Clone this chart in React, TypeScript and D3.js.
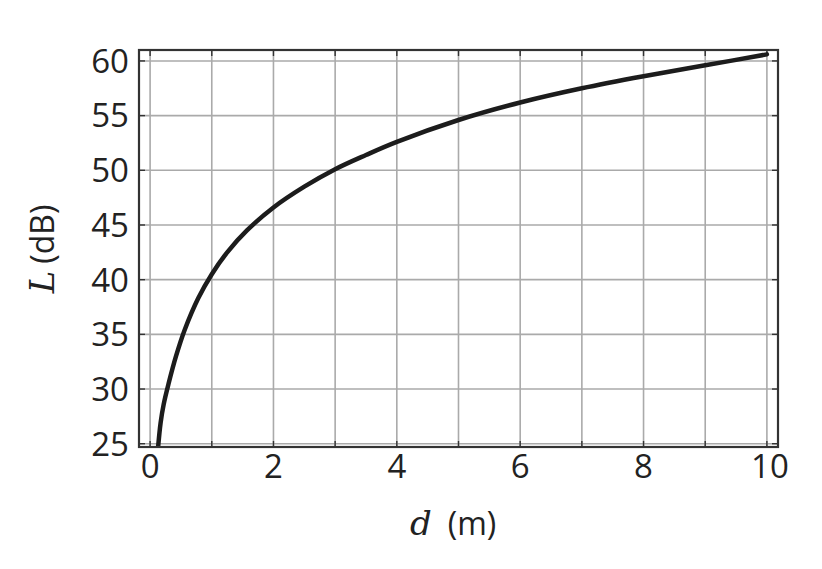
import React from "react"
import * as d3 from "d3"

// values
const distances = [0.13, 0.17, 0.22, 0.3, 0.42, 0.56, 0.78, 1, 1.25, 1.57, 2, 2.5, 3, 3.5, 4, 5, 6, 7, 8, 9, 10]
const levels = [24.7, 26.9, 28.6, 30.5, 33.0, 35.4, 38.3, 40.5, 42.5, 44.5, 46.6, 48.5, 50.1, 51.4, 52.6, 54.6, 56.2, 57.5, 58.6, 59.6, 60.6]
const xTicks = [0, 2, 4, 6, 8, 10]
const xGrid = [0, 1, 2, 3, 4, 5, 6, 7, 8, 9, 10]
const yTicks = [25, 30, 35, 40, 45, 50, 55, 60]

const W = 822
const H = 569
const margin = { top: 50, right: 44, bottom: 122, left: 139 }

const App = () => {
  const innerW = W - margin.left - margin.right
  const innerH = H - margin.top - margin.bottom

  const x = d3.scaleLinear().domain([-0.18, 10.18]).range([0, innerW])
  const y = d3.scaleLinear().domain([24.7, 61]).range([innerH, 0])

  const points: [number, number][] = distances.map((d, i) => [d, levels[i]])
  const line = d3
    .line<[number, number]>()
    .x((d) => x(d[0]))
    .y((d) => y(d[1]))
    .curve(d3.curveCatmullRom.alpha(0.5))

  const font = "'Open Sans', 'Noto Sans', sans-serif"
  const serif = "'DejaVu Serif', 'Liberation Serif', serif"
  const tick = 6

  return (
    <svg
      width={W}
      height={H}
      style={{ position: "absolute", left: 0, top: 0, background: "#fff" }}
    >
      <defs>
        <clipPath id="plot">
          <rect x={0} y={0} width={innerW} height={innerH} />
        </clipPath>
      </defs>
      <g transform={`translate(${margin.left},${margin.top})`}>
        {/* grid */}
        {xGrid.map((v) => (
          <line key={"gx" + v} x1={x(v)} x2={x(v)} y1={0} y2={innerH} stroke="#aaa" strokeWidth={1.6} />
        ))}
        {yTicks.map((v) => (
          <line key={"gy" + v} x1={0} x2={innerW} y1={y(v)} y2={y(v)} stroke="#aaa" strokeWidth={1.6} />
        ))}
        {/* inward ticks on every side */}
        {xGrid.map((v) => (
          <g key={"tx" + v} stroke="#333" strokeWidth={1.4}>
            <line x1={x(v)} x2={x(v)} y1={innerH} y2={innerH - tick} />
            <line x1={x(v)} x2={x(v)} y1={0} y2={tick} />
          </g>
        ))}
        {yTicks.map((v) => (
          <g key={"ty" + v} stroke="#333" strokeWidth={1.4}>
            <line x1={0} x2={tick} y1={y(v)} y2={y(v)} />
            <line x1={innerW} x2={innerW - tick} y1={y(v)} y2={y(v)} />
          </g>
        ))}
        {/* curve */}
        <path
          d={line(points) ?? ""}
          fill="none"
          stroke="#1c1c1c"
          strokeWidth={4.5}
          strokeLinecap="round"
          clipPath="url(#plot)"
        />
        {/* frame */}
        <rect x={0} y={0} width={innerW} height={innerH} fill="none" stroke="#333" strokeWidth={2.2} />
        {/* tick labels */}
        {xTicks.map((v) => (
          <text
            key={"lx" + v}
            x={x(v) + (v === 10 ? 3 : 0)}
            y={innerH + 31}
            textAnchor="middle"
            fontFamily={font}
            fontSize={33}
            fill="#222"
          >
            {v}
          </text>
        ))}
        {yTicks.map((v) => (
          <text
            key={"ly" + v}
            x={-10}
            y={y(v)}
            dy="0.36em"
            textAnchor="end"
            fontFamily={font}
            fontSize={33}
            fill="#222"
          >
            {v}
          </text>
        ))}
      </g>
      {/* axis titles */}
      <text x={410} y={535} fontFamily={font} fontSize={32} fill="#222">
        <tspan fontFamily={serif} fontStyle="italic" fontSize={34}>
          d
        </tspan>
        <tspan dx={16}>(m)</tspan>
      </text>
      <text
        transform="translate(54,249) rotate(-90)"
        textAnchor="middle"
        fontFamily={font}
        fontSize={32}
        fill="#222"
      >
        <tspan fontFamily={serif} fontStyle="italic" fontSize={34}>
          L
        </tspan>
        <tspan dx={7}>(dB)</tspan>
      </text>
    </svg>
  )
}

export default App
